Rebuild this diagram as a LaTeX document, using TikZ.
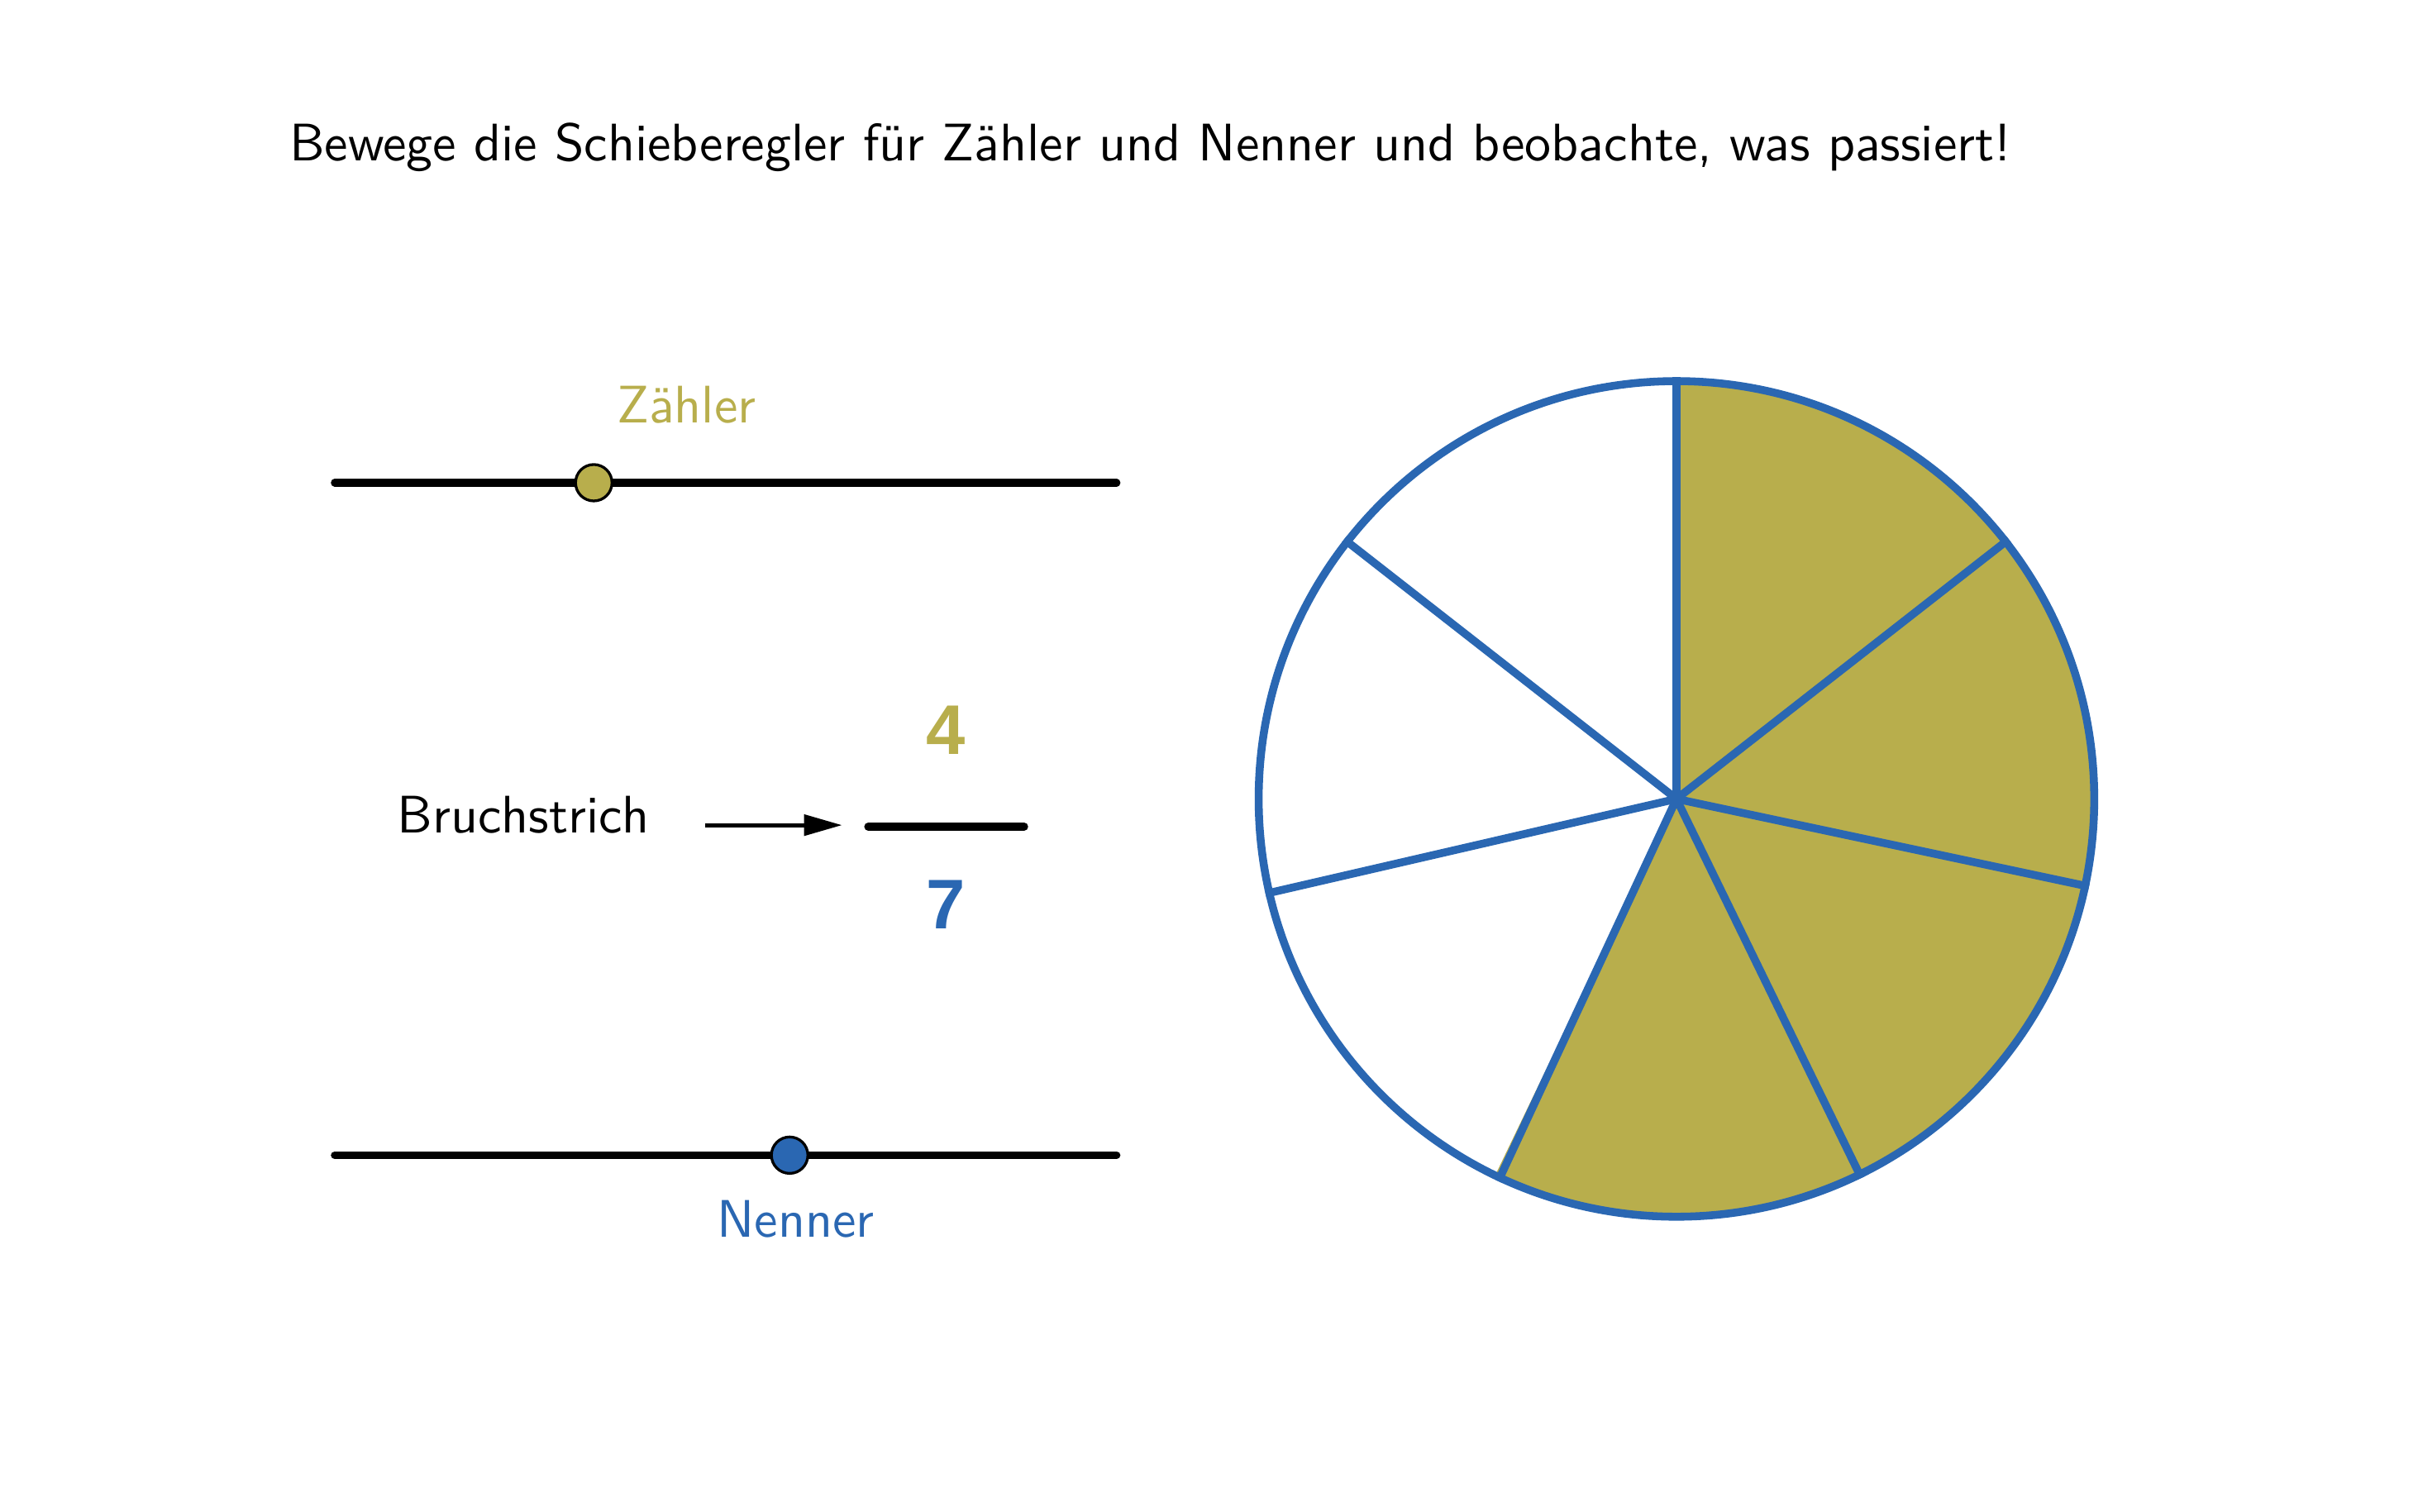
\documentclass[tikz,border=0pt]{standalone}
\usepackage{fontspec}
\newfontfamily\digitfont{Liberation Sans}
\usetikzlibrary{arrows.meta}
\definecolor{zcol}{RGB}{184,174,76}
\definecolor{ncol}{RGB}{42,103,178}
\begin{document}
\begin{tikzpicture}[x=0.00995cm,y=-0.00995cm,
  txt/.style={font=\sffamily\fontsize{9.7}{12}\selectfont, inner sep=0pt},
  digit/.style={font=\digitfont\bfseries\fontsize{12.9}{15}\selectfont, inner sep=0pt},
  sliderline/.style={line width=1.4pt, line cap=round},
  knob/.style={circle, draw=black, line width=0.5pt, minimum size=0.235cm, inner sep=0pt},
  pieline/.style={draw=ncol, line width=1.45pt}]
\useasboundingbox (0,0) rectangle (1567.84,979.9);
% title
\node[txt, anchor=base west] (title) at (187,104) {Bewege die Schieberegler für Zähler und Nenner und beobachte, was passiert!};
% Zaehler slider
\coordinate (zs) at (217,313);
\coordinate (ze) at (724,313);
\draw[sliderline] (zs) -- (ze);
\node[knob, fill=zcol] (zknob) at (385,313) {};
\node[txt, anchor=base, text=zcol] (zlabel) at (445,274) {Zähler};
% Nenner slider
\coordinate (ns) at (217,749);
\coordinate (ne) at (724,749);
\draw[sliderline] (ns) -- (ne);
\node[knob, fill=ncol] (nknob) at (512,749) {};
\node[txt, anchor=base, text=ncol] (nlabel) at (516,802) {Nenner};
% Bruchstrich
\node[txt, anchor=base west] (bruch) at (257,540) {Bruchstrich};
\coordinate (as) at (457,535);
\coordinate (ae) at (546,535);
\draw[line width=0.75pt, -{Triangle[length=7pt,width=3.8pt]}] (as) -- (ae);
\coordinate (bs) at (563,536);
\coordinate (be) at (664,536);
\draw[line width=1.5pt, line cap=round] (bs) -- (be);
\node[digit, anchor=base, text=zcol] (num) at (613,489) {4};
\node[digit, anchor=base, text=ncol] (den) at (613,602) {7};
% pie
\coordinate (c) at (1087,518);
\fill[zcol] (c) -- ++(-90:271) arc[start angle=-90, end angle={-90+4*360/7}, radius=271] -- cycle;
\node[circle, pieline, minimum size=5.39cm, inner sep=0pt] (pie) at (c) {};
\foreach \k in {0,...,6}{
  \draw[pieline] (pie.center) -- (pie.{90-\k*360/7});
}
\end{tikzpicture}
\end{document}
